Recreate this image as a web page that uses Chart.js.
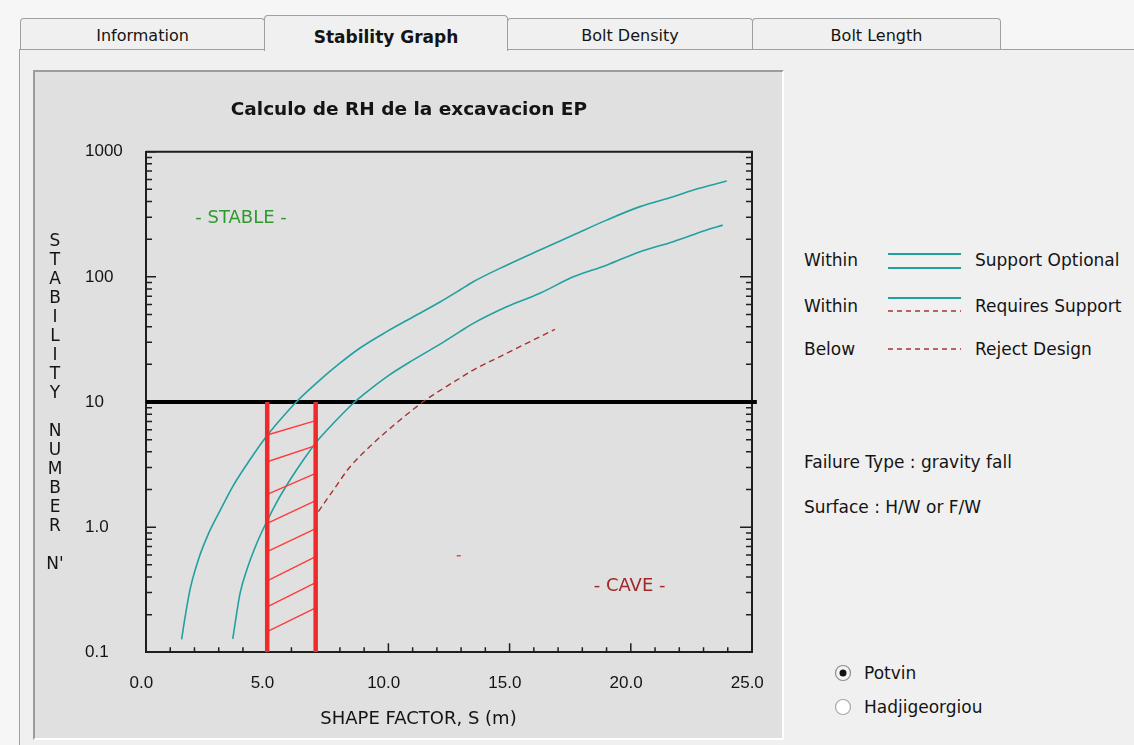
<!DOCTYPE html>
<html>
<head>
<meta charset="utf-8">
<title>Stability Graph</title>
<script src="https://cdn.jsdelivr.net/npm/chart.js@4.4.1/dist/chart.umd.min.js"></script>
<style>
    body { margin: 0; width: 1134px; height: 745px; overflow: hidden; position: relative;
           background: #f6f6f6; font-family: "DejaVu Sans", sans-serif; color: #141414; }
    .tab { position: absolute; top: 18px; height: 31px; box-sizing: border-box; border: 1px solid #a0a0a0;
           border-bottom: none; border-radius: 4px 4px 0 0; background: #f0f0f0; text-align: center;
           font-size: 16px; line-height: 33px; z-index: 1; }
    .tab.sel { top: 15px; height: 36px; font-weight: bold; font-size: 17px; line-height: 42px; z-index: 3; }
    #page { position: absolute; left: 19px; top: 49px; width: 1130px; height: 710px; border: 1px solid #a0a0a0;
            background: #f0f0f0; z-index: 2; }
    #panel { position: absolute; left: 33px; top: 70px; width: 747px; height: 666px; border: 2px solid;
             border-color: #9c9c9c #ffffff #ffffff #9c9c9c; background: #e0e0e0; z-index: 4; }
    .txt { position: absolute; font-size: 17px; line-height: 20px; white-space: nowrap; z-index: 4; }
    #marks { position: absolute; left: 0; top: 0; z-index: 5; }
</style>
</head>
<body>
<div class="tab" style="left:20px;width:245px">Information</div>
<div class="tab sel" style="left:264px;width:244px">Stability Graph</div>
<div class="tab" style="left:507px;width:246px">Bolt Density</div>
<div class="tab" style="left:752px;width:249px">Bolt Length</div>
<div id="page"></div>

<div id="panel">
    <div style="position:relative;width:747px;height:666px"><canvas id="stability-chart"></canvas></div>
</div>

<div class="txt" style="left:804px;top:250px">Within</div>
<div class="txt" style="left:975px;top:250px">Support Optional</div>
<div class="txt" style="left:804px;top:296px">Within</div>
<div class="txt" style="left:975px;top:296px">Requires Support</div>
<div class="txt" style="left:804px;top:339px">Below</div>
<div class="txt" style="left:975px;top:339px">Reject Design</div>
<div class="txt" style="left:804px;top:452px">Failure Type : gravity fall</div>
<div class="txt" style="left:804px;top:497px">Surface : H/W or F/W</div>
<div class="txt" style="left:864px;top:663px">Potvin</div>
<div class="txt" style="left:864px;top:697px">Hadjigeorgiou</div>

<svg id="marks" width="1134" height="745">
    <line x1="888" y1="254" x2="961" y2="254" stroke="#22a0a0" stroke-width="2"/>
    <line x1="888" y1="268" x2="961" y2="268" stroke="#22a0a0" stroke-width="2"/>
    <line x1="888" y1="298" x2="961" y2="298" stroke="#22a0a0" stroke-width="2"/>
    <line x1="888" y1="311" x2="961" y2="311" stroke="#a83232" stroke-width="1.5" stroke-dasharray="5 4"/>
    <line x1="888" y1="349" x2="961" y2="349" stroke="#a83232" stroke-width="1.5" stroke-dasharray="5 4"/>
    <circle cx="843" cy="673" r="7.5" fill="#f4f4f4" stroke="#8c8c8c" stroke-width="1.2"/>
    <circle cx="843" cy="673" r="3.5" fill="#111"/>
    <circle cx="843" cy="707" r="7.5" fill="#ffffff" stroke="#a8a8a8" stroke-width="1.2"/>
</svg>

<script>
// 境界線データ (形状係数 S, 安定数 N')
const optionalS = [1.47, 1.61, 1.82, 2.16, 2.57, 3.05, 3.60, 4.33, 4.91, 5.53, 6.15, 7.18, 8.0, 8.83,
                   9.93, 11.03, 12.13, 12.95, 13.5, 14.88, 16.25, 17.63, 19.0, 20.38, 21.75, 22.58, 23.96];
const optionalN = [0.127, 0.19, 0.32, 0.55, 0.88, 1.35, 2.15, 3.55, 5.13, 7.18, 9.78, 15, 20.4, 27,
                   36.5, 48, 63, 78.5, 91.4, 124, 164, 216, 284, 364, 437, 494, 583];
const requiresS = [3.58, 3.74, 3.88, 4.15, 4.57, 4.98, 5.39, 5.94, 6.49, 7.04, 7.73, 8.55, 9.10, 9.93,
                   11.03, 12.13, 12.95, 13.5, 14.88, 16.25, 17.63, 19.0, 20.38, 21.75, 23.13, 23.79];
const requiresN = [0.128, 0.205, 0.296, 0.45, 0.743, 1.105, 1.58, 2.38, 3.44, 4.82, 6.76, 9.77, 12.0, 15.9,
                   21.7, 29, 36.5, 42.5, 57.7, 73.9, 100, 124, 159, 191, 237, 259];
const rejectS = [7.11, 7.73, 8.42, 9.38, 10.48, 11.44, 11.85, 12.95, 13.5, 14.88, 15.98, 16.87];
const rejectN = [1.33, 1.98, 3.04, 4.68, 7.18, 10.06, 11.4, 15.5, 18, 24.5, 31.3, 38.1];

// 設計範囲（赤線とハッチング）
const designS = [5.0, 7.0];
const designN = [10, 0.1];
const hatchLeftN = [5.45, 3.33, 1.83, 1.07, 0.637, 0.372, 0.231, 0.146];
const hatchRightN = [7.09, 4.48, 2.69, 1.63, 0.972, 0.581, 0.360, 0.226];
const limitS = [0, 25.2];
const limitN = 10;
const strayS = [12.9];
const strayN = [0.59];

// 領域ラベル
const regionLabels = ['- STABLE -', '- CAVE -'];
const regionS = [3.92, 19.95];
const regionN = [295, 0.339];

// 軸
const xTickLabels = ['0.0', '5.0', '10.0', '15.0', '20.0', '25.0'];
const yMajor = [0.1, 1, 10, 100, 1000];
const yMajorLabels = ['0.1', '1.0', '10', '100', '1000'];
const chartTitle = 'Calculo de RH de la excavacion EP';
const xTitle = 'SHAPE FACTOR, S (m)';
const yTitle = "STABILITY NUMBER N'";

const teal = '#22a0a0';
const darkRed = '#a83232';
const red = '#ee2a2a';

function toPoints(xs, ys) {
    return xs.map((s, i) => ({ x: s, y: ys[i] }));
}

// 対数軸の目盛り 1..9 x 10^n
const yTicks = [];
yMajor.forEach((d, i) => {
    if (i === yMajor.length - 1) { yTicks.push(d); return; }
    for (let k = 1; k <= 9; k++) yTicks.push(+(d * k).toPrecision(6));
});

function isDecade(v) {
    const l = Math.log10(v);
    return Math.abs(l - Math.round(l)) < 1e-6;
}

// 赤い縦線
const designLines = [];
designS.forEach(s => {
    designLines.push({ x: s, y: designN[0] }, { x: s, y: designN[1] }, { x: s, y: null });
});
// ハッチング
const hatchLines = [];
hatchLeftN.forEach((n, i) => {
    hatchLines.push({ x: designS[0], y: n }, { x: designS[1], y: hatchRightN[i] }, { x: designS[1], y: null });
});

const decorPlugin = {
    id: 'decor',
    beforeDatasetsDraw(chart) {
        const { ctx, chartArea: a, scales: { x, y } } = chart;
        ctx.save();
        // 上と右の枠
        ctx.strokeStyle = '#1e1e1e';
        ctx.lineWidth = 2;
        ctx.beginPath();
        ctx.moveTo(a.left, a.top);
        ctx.lineTo(a.right, a.top);
        ctx.lineTo(a.right, a.bottom);
        ctx.stroke();

        // 内向きの目盛り
        ctx.lineWidth = 1.5;
        ctx.beginPath();
        x.ticks.forEach(t => {
            const px = x.getPixelForValue(t.value);
            const len = t.value % 5 === 0 ? 9 : 5;
            ctx.moveTo(px, a.bottom);
            ctx.lineTo(px, a.bottom - len);
        });
        y.ticks.forEach(t => {
            const py = y.getPixelForValue(t.value);
            const major = isDecade(t.value);
            ctx.moveTo(a.left, py);
            ctx.lineTo(a.left + (major ? 10 : 6), py);
            ctx.moveTo(a.right, py);
            ctx.lineTo(a.right - (major ? 12 : 6), py);
        });
        ctx.stroke();

        // STABLE / CAVE
        ctx.font = '18px "DejaVu Sans"';
        ctx.textAlign = 'center';
        ctx.textBaseline = 'middle';
        regionLabels.forEach((label, i) => {
            ctx.fillStyle = i === 0 ? '#2e9a2e' : '#a02828';
            ctx.fillText(label, x.getPixelForValue(regionS[i]), y.getPixelForValue(regionN[i]));
        });

        // 縦書きのY軸タイトル
        ctx.fillStyle = '#141414';
        ctx.font = '17px "DejaVu Sans"';
        const letters = yTitle.replace("N'", '\u0000').split('').map(c => c === '\u0000' ? "N'" : c);
        letters.forEach((c, i) => {
            if (c !== ' ') ctx.fillText(c, a.left - 91, a.top + 90.3 + i * 19);
        });
        ctx.restore();
    }
};

const ctx = document.getElementById('stability-chart').getContext('2d');
new Chart(ctx, {
    type: 'line',
    data: {
        datasets: [
            { data: designLines, borderColor: red, borderWidth: 4.5, pointRadius: 0 },
            { data: hatchLines, borderColor: '#ff3b3b', borderWidth: 1.4, pointRadius: 0 },
            { data: toPoints(strayS, strayN), showLine: false, pointStyle: 'line', pointRadius: 2,
              pointBorderWidth: 1.5, pointBorderColor: '#ff3b3b' },
            { data: toPoints(optionalS, optionalN), borderColor: teal, borderWidth: 1.6, pointRadius: 0,
              cubicInterpolationMode: 'monotone' },
            { data: toPoints(requiresS, requiresN), borderColor: teal, borderWidth: 1.6, pointRadius: 0,
              cubicInterpolationMode: 'monotone' },
            { data: toPoints(rejectS, rejectN), borderColor: darkRed, borderWidth: 1.4, borderDash: [6, 4],
              pointRadius: 0, cubicInterpolationMode: 'monotone' },
            { data: limitS.map(s => ({ x: s, y: limitN })), borderColor: '#000', borderWidth: 4,
              pointRadius: 0, clip: false }
        ]
    },
    options: {
        responsive: true,
        maintainAspectRatio: false,
        animation: false,
        layout: { padding: { left: 50, right: 30, top: 0, bottom: 0 } },
        plugins: {
            legend: { display: false },
            tooltip: { enabled: false },
            title: {
                display: true,
                text: chartTitle + '   ',
                color: '#141414',
                font: { family: 'DejaVu Sans', size: 18.5, weight: 'bold' },
                padding: { top: 26.9, bottom: 30.6 }
            },
            subtitle: {
                display: true,
                position: 'bottom',
                text: xTitle,
                color: '#141414',
                font: { family: 'DejaVu Sans', size: 18 },
                padding: { top: 4, bottom: 8.2 }
            }
        },
        scales: {
            x: {
                type: 'linear',
                min: 0,
                max: 25,
                grid: { display: false, drawTicks: true, tickLength: 20.5 },
                border: { display: true, color: '#1e1e1e', width: 2 },
                ticks: {
                    stepSize: 1,
                    autoSkip: false,
                    maxRotation: 0,
                    padding: 0,
                    color: '#141414',
                    font: { family: 'Liberation Sans', size: 17 },
                    callback: v => v % 5 === 0 ? xTickLabels[v / 5] + '  ' : ''
                },
                afterFit: s => { s.height = 51.9; }
            },
            y: {
                type: 'logarithmic',
                min: 0.1,
                max: 1000,
                grid: { display: false, drawTicks: false },
                border: { display: true, color: '#1e1e1e', width: 2 },
                afterBuildTicks: s => { s.ticks = yTicks.map(v => ({ value: v })); },
                ticks: {
                    autoSkip: false,
                    crossAlign: 'far',
                    color: '#141414',
                    font: { family: 'Liberation Sans', size: 17 },
                    callback: v => {
                        const i = yMajor.findIndex(m => Math.abs(m - v) < m * 1e-6);
                        return i >= 0 ? yMajorLabels[i] : '';
                    }
                },
                afterFit: s => { s.width = 61; }
            }
        }
    },
    plugins: [decorPlugin]
});
</script>
</body>
</html>
